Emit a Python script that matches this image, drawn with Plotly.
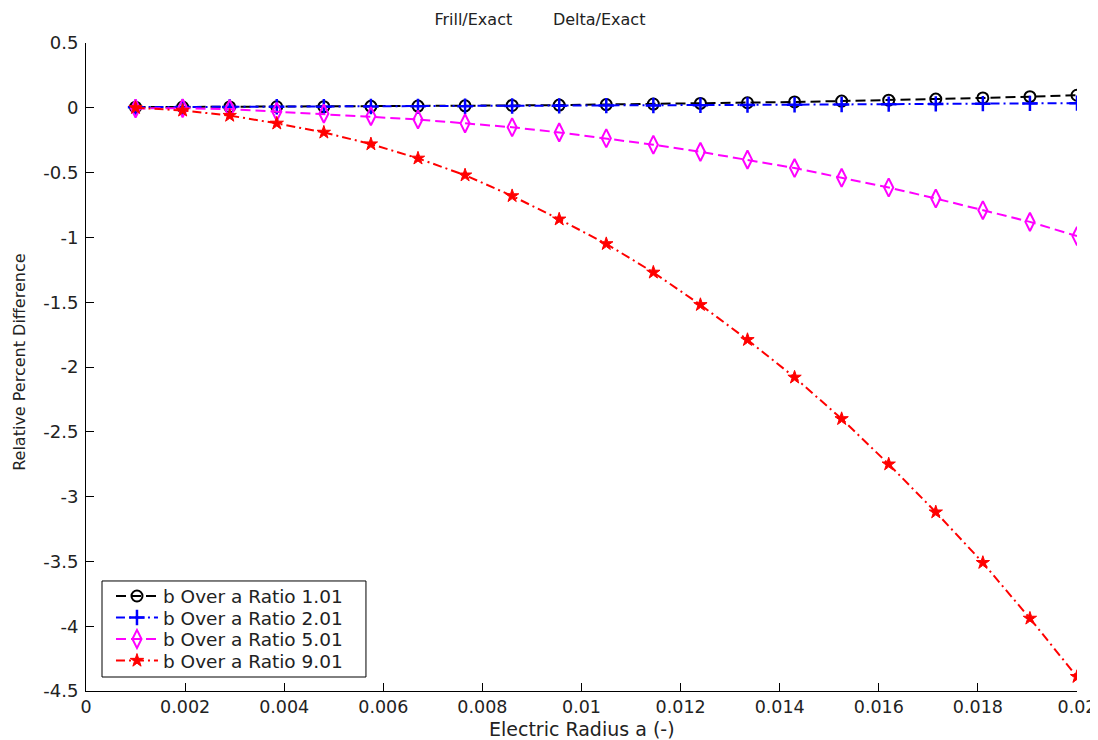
import plotly.graph_objects as go

x_vals = [0.001, 0.00195, 0.0029, 0.00385, 0.0048, 0.00575, 0.0067, 0.00765, 0.0086, 0.00955,
          0.0105, 0.01145, 0.0124, 0.01335, 0.0143, 0.01525, 0.0162, 0.01715, 0.0181, 0.01905, 0.02]

ratio_101 = [0.005, 0.006, 0.007, 0.008, 0.009, 0.011, 0.013, 0.015, 0.018, 0.021, 0.025,
             0.029, 0.034, 0.039, 0.045, 0.052, 0.059, 0.067, 0.076, 0.086, 0.097]
ratio_201 = [0.005, 0.006, 0.007, 0.008, 0.009, 0.010, 0.011, 0.012, 0.014, 0.015, 0.017,
             0.018, 0.020, 0.022, 0.024, 0.026, 0.028, 0.030, 0.032, 0.034, 0.036]
ratio_501 = [-0.005, -0.003, -0.01, -0.03, -0.045, -0.065, -0.09, -0.12, -0.15, -0.19, -0.235,
             -0.285, -0.34, -0.40, -0.465, -0.54, -0.615, -0.70, -0.79, -0.88, -0.99]
ratio_901 = [0.0, -0.02, -0.06, -0.12, -0.19, -0.28, -0.39, -0.52, -0.68, -0.86, -1.05,
             -1.27, -1.52, -1.79, -2.08, -2.40, -2.75, -3.12, -3.51, -3.94, -4.39]

names = ["b Over a Ratio 1.01", "b Over a Ratio 2.01", "b Over a Ratio 5.01", "b Over a Ratio 9.01"]

x_ticks = [0, 0.002, 0.004, 0.006, 0.008, 0.01, 0.012, 0.014, 0.016, 0.018, 0.02]
x_ticklabels = ["0", "0.002", "0.004", "0.006", "0.008", "0.01", "0.012", "0.014", "0.016", "0.018", "0.02"]
y_ticks = [0.5, 0, -0.5, -1, -1.5, -2, -2.5, -3, -3.5, -4, -4.5]
y_ticklabels = ["0.5", "0", "-0.5", "-1", "-1.5", "-2", "-2.5", "-3", "-3.5", "-4", "-4.5"]

FONT = "DejaVu Sans, Verdana, sans-serif"
TXT = "#222222"

series = [
    dict(y=ratio_101, color="black", dash="10px,5px", symbol="circle-open", size=11, lw=2),
    dict(y=ratio_201, color="#0000ff", dash="9px,4px,2px,4px", symbol="cross-thin-open", size=11, lw=2.5),
    dict(y=ratio_501, color="#ff00ff", dash="10px,5px", symbol="diamond-tall-open", size=13, lw=2),
    dict(y=ratio_901, color="#ff0000", dash="9px,4px,2px,4px", symbol="star", size=10, lw=1),
]
legend_ids = ["legend", "legend2", "legend3", "legend4"]
legend_rows = [0.1459, 0.1127, 0.0795, 0.0463]

fig = go.Figure()
for name, s, lid in zip(names, series, legend_ids):
    fig.add_trace(go.Scatter(
        x=x_vals, y=s["y"], name=name, mode="lines+markers", legend=lid,
        line=dict(color=s["color"], width=2, dash=s["dash"]),
        marker=dict(symbol=s["symbol"], size=s["size"], color=s["color"],
                    line=dict(width=s["lw"], color=s["color"])),
    ))

legend_common = dict(xanchor="left", yanchor="middle", borderwidth=0, bgcolor="rgba(0,0,0,0)",
                     font=dict(family=FONT, size=18.5, color=TXT), itemwidth=42)
layout_legends = {lid: dict(x=0.0252, y=row, **legend_common) for lid, row in zip(legend_ids, legend_rows)}

fig.update_layout(
    width=1090, height=732,
    margin=dict(l=78, r=21, t=35, b=49),
    paper_bgcolor="white", plot_bgcolor="white",
    font=dict(family=FONT, size=16, color=TXT),
    title=dict(text="Frill/Exact" + "\u00a0" * 8 + "Delta/Exact", xref="container", x=0.488, xanchor="center",
               yref="container", y=0.9918, yanchor="top",
               font=dict(family=FONT, size=16, color=TXT)),
    showlegend=True,
    shapes=[dict(type="rect", xref="paper", yref="paper", x0=0.01615, x1=0.2825, y0=0.0216, y1=0.1698,
                 line=dict(color="black", width=1), fillcolor="white", layer="above")],
    annotations=[
        dict(text="Electric Radius a (-)", xref="paper", yref="paper", x=0.5, y=-0.0586,
             xanchor="center", yanchor="middle", showarrow=False,
             font=dict(family=FONT, size=19, color=TXT)),
        dict(text="Relative Percent Difference", xref="paper", yref="paper", x=-0.0666, y=0.508,
             xanchor="center", yanchor="middle", showarrow=False, textangle=-90,
             font=dict(family=FONT, size=16, color=TXT)),
    ],
    **layout_legends,
)
fig.update_xaxes(
    range=[0, 0.02], tickvals=x_ticks, ticktext=x_ticklabels, automargin=False,
    showline=True, linecolor="black", linewidth=1, mirror=False,
    ticks="inside", ticklen=8, tickcolor="black", showgrid=False, zeroline=False,
    tickfont=dict(family=FONT, size=17.5, color=TXT),
)
fig.update_yaxes(
    range=[-4.5, 0.5], tickvals=y_ticks, ticktext=y_ticklabels, automargin=False,
    showline=True, linecolor="black", linewidth=1, mirror=False,
    ticks="inside", ticklen=8, tickcolor="black", showgrid=False, zeroline=False,
    ticklabelstandoff=3,
    tickfont=dict(family=FONT, size=18, color=TXT),
)

fig.write_html("out.html")
